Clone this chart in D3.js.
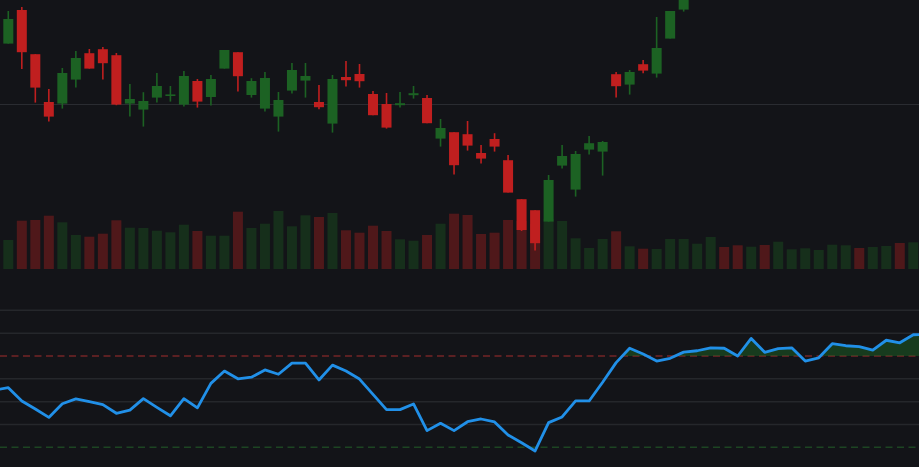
<!DOCTYPE html>
<html>
<head>
<meta charset="utf-8">
<script src="https://cdn.jsdelivr.net/npm/d3@7"></script>
<style>
    html, body { margin: 0; padding: 0; background: #131418; overflow: hidden; }
    #chart { width: 919px; height: 467px; }
</style>
</head>
<body>
<div id="chart"></div>
<script>

/* * * * * * * * * * * * * *
*      candles + rsi        *
* * * * * * * * * * * * * */

// price data, one entry per bar
let opens = [154.25, 153.02, 154.7, 152.49, 150.1, 150.02, 151.22, 152.54, 152.74, 152.44, 150.02, 149.72, 150.32, 150.44, 149.97, 151.15, 150.35, 151.77, 152.59, 150.45, 149.77, 149.37, 150.67, 151.17, 150.1, 149.02, 151.35, 151.5, 150.5, 150.0, 149.94, 150.44, 150.3, 148.27, 148.59, 148.49, 147.55, 148.25, 147.19, 145.24, 144.69, 144.12, 146.92, 145.72, 147.72, 147.62, 151.49, 150.97, 151.99, 151.52, 153.27, 154.72, 156.1, 157.0, 157.9, 157.5, 157.0, 158.3, 157.8, 158.3, 157.6, 157.9, 158.1, 159.0, 159.2, 158.8, 158.9, 159.7, 159.5, 160.3];
let highs = [154.45, 154.65, 154.85, 152.49, 150.75, 151.8, 152.65, 152.75, 152.85, 152.55, 151.0, 150.59, 151.55, 150.9, 151.65, 151.25, 151.45, 152.7, 152.59, 151.29, 151.6, 150.6, 152.05, 152.05, 150.95, 151.45, 152.15, 152.0, 150.65, 150.55, 150.6, 150.9, 150.45, 149.25, 148.59, 149.15, 147.95, 148.54, 147.45, 145.24, 144.69, 146.45, 147.95, 147.65, 148.4, 148.15, 151.6, 151.7, 152.2, 154.35, 154.65, 156.45, 157.3, 158.1, 158.2, 157.7, 158.6, 158.5, 158.6, 158.9, 158.1, 158.3, 159.2, 159.3, 159.4, 159.1, 159.8, 159.9, 160.5, 160.8];
let lows = [153.3, 153.02, 151.75, 150.07, 149.12, 149.77, 150.82, 151.77, 151.22, 149.94, 149.37, 148.87, 150.07, 150.12, 149.87, 149.82, 149.92, 151.77, 150.62, 150.32, 149.62, 148.62, 150.52, 150.32, 149.74, 148.57, 150.87, 150.82, 149.44, 148.77, 149.82, 150.27, 149.04, 147.87, 146.47, 147.67, 147.02, 147.62, 145.57, 143.65, 142.67, 144.12, 146.77, 145.37, 147.47, 146.42, 150.32, 150.47, 151.54, 151.32, 153.27, 154.62, 155.9, 156.8, 157.2, 156.7, 156.9, 157.5, 157.6, 158.0, 157.4, 157.7, 158.0, 158.8, 158.8, 158.6, 158.8, 159.3, 159.4, 160.1];
let closes = [153.45, 154.25, 152.59, 150.82, 149.37, 151.55, 152.3, 151.77, 152.04, 149.97, 150.25, 150.15, 150.9, 150.48, 151.4, 150.12, 151.25, 152.7, 151.39, 151.15, 151.3, 150.2, 151.7, 151.4, 149.84, 151.25, 151.19, 151.14, 149.44, 148.82, 150.04, 150.54, 149.04, 148.8, 146.94, 147.92, 147.27, 147.87, 145.57, 143.7, 143.04, 146.2, 147.4, 147.5, 148.04, 148.1, 150.89, 151.6, 151.67, 152.8, 154.65, 156.2, 157.0, 157.8, 157.5, 157.0, 158.3, 157.8, 158.3, 158.6, 157.9, 158.1, 159.0, 159.1, 159.0, 158.9, 159.6, 159.5, 160.3, 160.6];

// volume in thousands
let volumes = [39, 29, 48.3, 49, 53.3, 46.7, 34, 32.3, 35.3, 48.7, 41.3, 41, 38.3, 36.7, 44.3, 38, 33.3, 33.3, 57.3, 41, 45.3, 58, 42.7, 53.7, 52, 56, 38.7, 36.3, 43.3, 38, 29.7, 28.3, 34, 45.3, 55.3, 54, 35, 36.3, 49, 48, 45, 50, 48, 30.7, 21, 30, 37.7, 22.7, 20.3, 20, 30, 30, 25.3, 32, 22, 23.7, 22.3, 24, 27.3, 19.7, 20.7, 19, 24.3, 23.7, 21, 22, 23, 26, 26.7, 27];

// rsi values
let rsiValues = [55.1, 56.1, 50.3, 46.8, 43.1, 49.1, 51.2, 50.0, 48.7, 44.9, 46.3, 51.3, 47.5, 43.8, 51.3, 47.3, 58.0, 63.4, 60.0, 60.7, 63.9, 62.0, 66.9, 66.9, 59.5, 66.0, 63.4, 59.9, 53.2, 46.5, 46.5, 49.0, 37.3, 40.5, 37.3, 41.2, 42.4, 41.1, 35.4, 32.0, 28.4, 40.8, 43.3, 50.3, 50.3, 58.5, 67.1, 73.4, 70.9, 67.8, 69.0, 71.7, 72.3, 73.6, 73.4, 70.0, 77.7, 71.6, 73.2, 73.6, 67.8, 69.2, 75.4, 74.5, 74.1, 72.6, 76.9, 75.8, 79.3, 79.4];
let rsiGridLevels = [40, 50, 60, 80, 90];
let rsiUpper = 70;
let rsiLower = 30;

let upColor = "#1c6223";
let downColor = "#c01f1f";


class CandleRsiVis {

    /* Constructor method */
    constructor(parentElement) {
        this.parentElement = parentElement;

        this.data = opens.map((o, i) => ({
            i: i,
            open: o,
            high: highs[i],
            low: lows[i],
            close: closes[i],
            volume: volumes[i],
            rsi: rsiValues[i]
        }));

        this.initVis();
    }

    /* Initialize visualization */
    initVis() {
        let vis = this;

        vis.width = 919;
        vis.height = 467;

        // init drawing area
        vis.svg = d3.select("#" + vis.parentElement).append("svg")
            .attr("width", vis.width)
            .attr("height", vis.height)
            .style("display", "block");

        vis.svg.append("rect")
            .attr("width", vis.width)
            .attr("height", vis.height)
            .attr("fill", "#131418");

        // scales
        vis.x = d3.scaleLinear()
            .domain([0, vis.data.length - 1])
            .range([-5.2, 926.8]);

        vis.yPrice = d3.scaleLinear()
            .domain([140.4, 155.2])
            .range([296, 0]);

        vis.yVol = d3.scaleLinear()
            .domain([0, 100])
            .range([269, 169]);

        vis.yRsi = d3.scaleLinear()
            .domain([rsiLower, rsiUpper])
            .range([447.3, 356]);

        vis.updateVis();
    }

    /* Draw everything */
    updateVis() {
        let vis = this;
        let bodyW = 10;

        // price grid (only lines inside the price pane)
        let priceTicks = vis.yPrice.ticks(2).filter(t => t % 10 === 0);
        vis.svg.append("g").selectAll("line")
            .data(priceTicks)
            .enter()
            .append("line")
            .attr("x1", 0)
            .attr("x2", vis.width)
            .attr("y1", d => Math.round(vis.yPrice(d)) + 0.5)
            .attr("y2", d => Math.round(vis.yPrice(d)) + 0.5)
            .attr("stroke", "#2a2c31")
            .attr("stroke-width", 1);

        // volume bars
        vis.svg.append("g").selectAll("rect")
            .data(vis.data)
            .enter()
            .append("rect")
            .attr("x", d => vis.x(d.i) - bodyW / 2)
            .attr("width", bodyW)
            .attr("y", d => vis.yVol(d.volume))
            .attr("height", d => vis.yVol(0) - vis.yVol(d.volume))
            .attr("fill", d => d.close >= d.open ? upColor : downColor)
            .attr("opacity", 0.35);

        // candle wicks
        let candles = vis.svg.append("g").selectAll("g")
            .data(vis.data)
            .enter()
            .append("g");

        candles.append("line")
            .attr("x1", d => vis.x(d.i))
            .attr("x2", d => vis.x(d.i))
            .attr("y1", d => vis.yPrice(d.high))
            .attr("y2", d => vis.yPrice(d.low))
            .attr("stroke", d => d.close >= d.open ? upColor : downColor)
            .attr("stroke-width", 1.6);

        // candle bodies
        candles.append("rect")
            .attr("x", d => vis.x(d.i) - bodyW / 2)
            .attr("width", bodyW)
            .attr("y", d => vis.yPrice(Math.max(d.open, d.close)))
            .attr("height", d => Math.max(1.6, Math.abs(vis.yPrice(d.open) - vis.yPrice(d.close))))
            .attr("fill", d => d.close >= d.open ? upColor : downColor);

        // rsi grid
        vis.svg.append("g").selectAll("line")
            .data(rsiGridLevels)
            .enter()
            .append("line")
            .attr("x1", 0)
            .attr("x2", vis.width)
            .attr("y1", d => vis.yRsi(d))
            .attr("y2", d => vis.yRsi(d))
            .attr("stroke", "#25272b")
            .attr("stroke-width", 1.5);

        // overbought / oversold
        vis.svg.append("line")
            .attr("x1", 0).attr("x2", vis.width)
            .attr("y1", vis.yRsi(rsiUpper)).attr("y2", vis.yRsi(rsiUpper))
            .attr("stroke", "#742426")
            .attr("stroke-width", 1.5)
            .attr("stroke-dasharray", "7,4.5");

        vis.svg.append("line")
            .attr("x1", 0).attr("x2", vis.width)
            .attr("y1", vis.yRsi(rsiLower)).attr("y2", vis.yRsi(rsiLower))
            .attr("stroke", "#1d4522")
            .attr("stroke-width", 1.5)
            .attr("stroke-dasharray", "7,4.5");

        // fill above the upper level
        vis.svg.append("clipPath")
            .attr("id", "clip-ob")
            .append("rect")
            .attr("x", 0)
            .attr("y", 0)
            .attr("width", vis.width)
            .attr("height", vis.yRsi(rsiUpper));

        let area = d3.area()
            .x(d => vis.x(d.i))
            .y0(vis.yRsi(rsiUpper))
            .y1(d => vis.yRsi(d.rsi));

        vis.svg.append("path")
            .datum(vis.data)
            .attr("d", area)
            .attr("clip-path", "url(#clip-ob)")
            .attr("fill", upColor)
            .attr("opacity", 0.5);

        // rsi line
        let line = d3.line()
            .x(d => vis.x(d.i))
            .y(d => vis.yRsi(d.rsi));

        vis.svg.append("path")
            .datum(vis.data)
            .attr("d", line)
            .attr("fill", "none")
            .attr("stroke", "#2190e8")
            .attr("stroke-width", 2.8)
            .attr("stroke-linejoin", "round");
    }
}

let myCandleRsiVis = new CandleRsiVis("chart");

</script>
</body>
</html>
